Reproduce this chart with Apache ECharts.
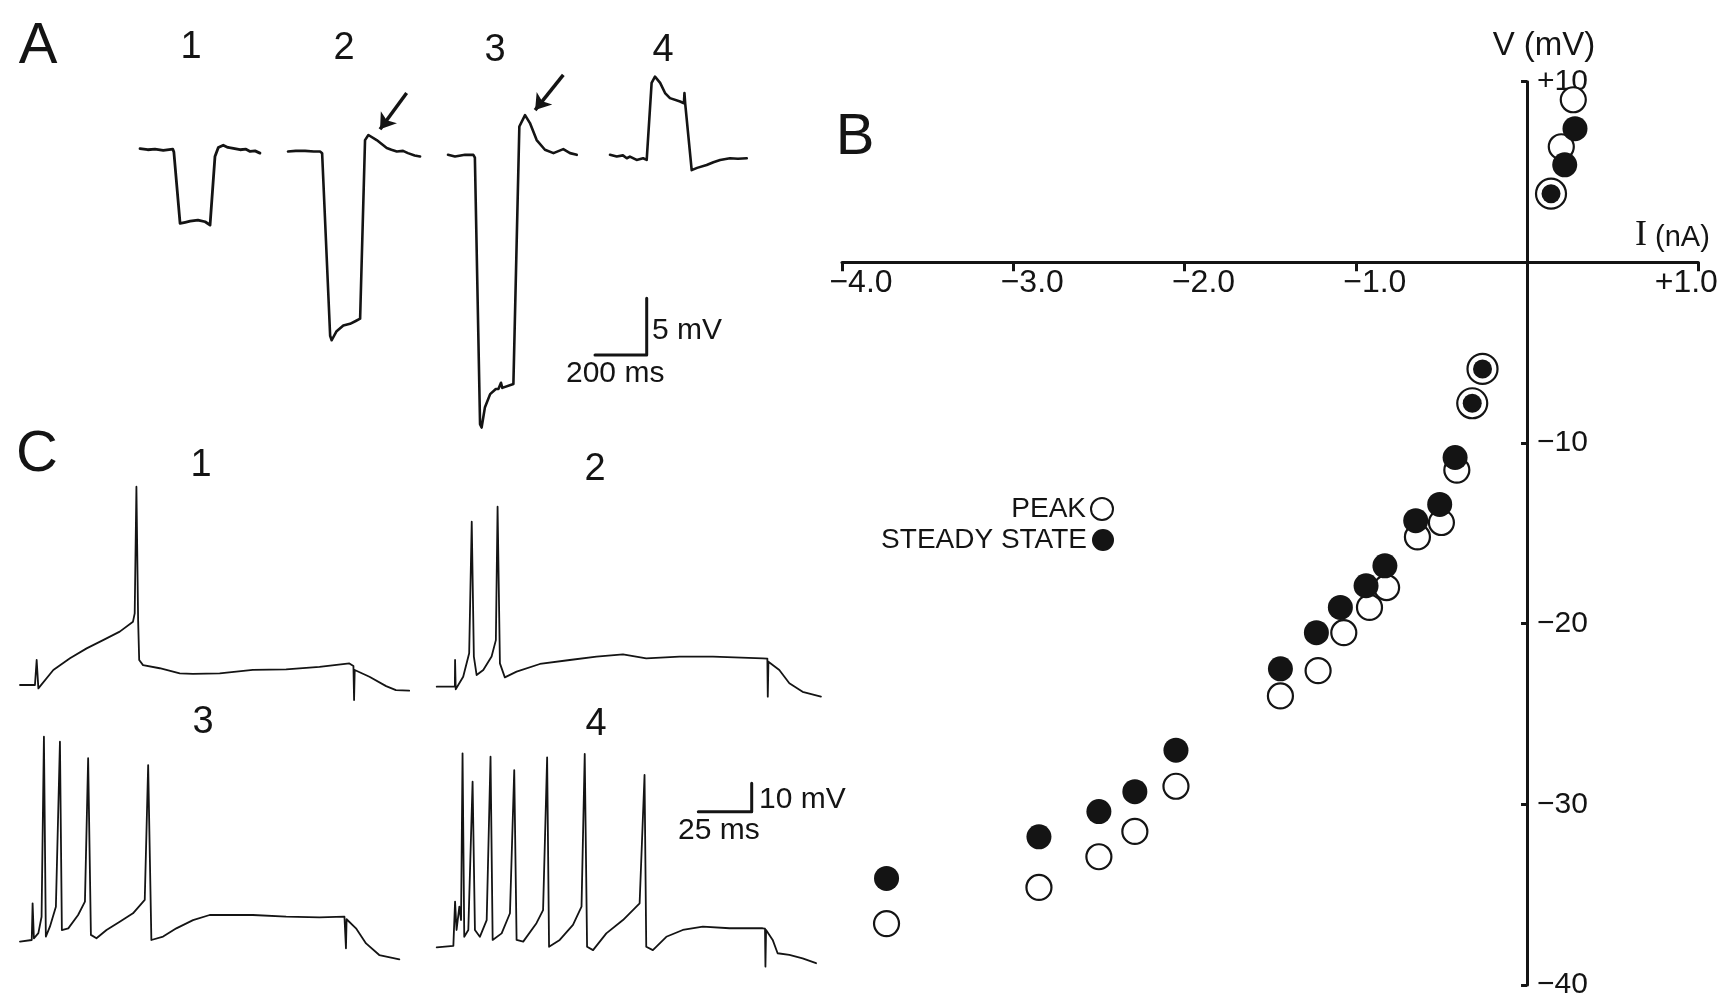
<!DOCTYPE html>
<html><head><meta charset="utf-8">
<script src="https://cdn.jsdelivr.net/npm/echarts@6/dist/echarts.min.js"></script>
<style>html,body{margin:0;padding:0;background:#fff}#c{width:1729px;height:994px}</style>
</head><body><div id="c"></div>
<script>
// ---------- Panel B: I-V relation (I in nA, V in mV) ----------
const steadyState = [[0.28,7.4],[0.22,5.4],[0.14,3.8],[-0.26,-5.9],[-0.32,-7.8],[-0.42,-10.8],[-0.51,-13.4],[-0.65,-14.3],[-0.83,-16.8],[-0.94,-17.9],[-1.09,-19.1],[-1.23,-20.5],[-1.44,-22.5],[-2.05,-27.0],[-2.29,-29.3],[-2.50,-30.4],[-2.85,-31.8],[-3.74,-34.1]];
const peak = [[0.27,9.0],[0.20,6.4],[0.14,3.8],[-0.26,-5.9],[-0.32,-7.8],[-0.41,-11.5],[-0.50,-14.4],[-0.64,-15.2],[-0.82,-18.0],[-0.92,-19.1],[-1.07,-20.5],[-1.22,-22.6],[-1.44,-24.0],[-2.05,-29.0],[-2.29,-31.5],[-2.50,-32.9],[-2.85,-34.6],[-3.74,-36.6]];
const currentTicks = [-4,-3,-2,-1,0,1];
const voltageTicks = [-40,-30,-20,-10,0,10];

// ---------- Panel A: responses to current steps ([ms, mV] relative to rest) ----------
const traceA1 = [[0,0.3],[30,0.2],[58,0.25],[90,0.15],[127,0.25],[131,0],[155,-6.3],[175,-6.2],[194,-6.1],[224,-6.0],[252,-6.15],[271,-6.45],[290,-0.4],[303,0.4],[322,0.6],[340,0.4],[356,0.35],[387,0.2],[410,0.25],[426,0.05],[445,0.1],[464,-0.1]];
const traceA2 = [[0,0.05],[30,0.1],[66,0.1],[100,0.05],[124,0.05],[132,-0.1],[163,-16.2],[169,-16.6],[188,-15.8],[214,-15.3],[240,-15.15],[262,-14.9],[279,-14.7],[286,-14.6],[298,1.05],[311,1.5],[343,1.05],[382,0.35],[400,0.2],[421,0.05],[445,0.1],[464,-0.1],[490,-0.3],[511,-0.4]];
const traceA3 = [[0,-0.25],[27,-0.4],[66,-0.25],[98,-0.25],[104,-0.5],[124,-24.0],[130,-24.3],[143,-22.5],[163,-21.35],[185,-20.9],[195,-20.9],[205,-20.35],[210,-20.8],[253,-20.45],[259,-20.3],[276,2.25],[298,3.25],[317,2.55],[343,1.05],[375,0.2],[408,-0.1],[446,0.25],[472,-0.1],[498,-0.25]];
const traceA4 = [[0,-0.25],[26,-0.4],[50,-0.3],[65,-0.55],[77,-0.4],[103,-0.7],[128,-0.55],[142,-0.7],[161,6.1],[174,6.65],[194,6.1],[213,5.2],[232,4.75],[271,4.45],[286,4.3],[288,5.2],[291,4.25],[316,-1.6],[337,-1.4],[374,-1.15],[400,-0.9],[426,-0.7],[464,-0.55],[495,-0.6],[529,-0.55]];
const arrowA2 = [[459,5.2],[356,2.0]];
const arrowA3 = [[446,6.8],[337,3.7]];
const scaleBarA = [[0,0],[200,0],[200,5]];   // 200 ms, 5 mV

// ---------- Panel C: firing during depolarizing steps ([ms, mV]) ----------
const traceC1 = [[0,0],[7,0],[7.8,8.8],[8.6,-1.2],[9.3,-0.6],[15.6,5.3],[23.4,9.4],[31.2,12.9],[38.9,15.8],[46.7,18.8],[52.9,22.3],[53.7,25.2],[54.5,69.8],[55.3,22.9],[55.8,8.8],[57.6,7.0],[65.4,5.9],[74.8,4.1],[81,3.9],[93.5,4.1],[109,5.3],[124.6,5.5],[140.2,6.4],[154.2,7.6],[156.1,6.7],[156.4,-5.3],[156.7,5.3],[163.6,2.9],[171.4,-0.4],[176,-1.8],[182.2,-2.0]];
const traceC2 = [[0,0],[8.5,0],[8.6,9.4],[8.9,-0.9],[12.4,3.5],[15.2,11.8],[16.4,58.1],[17.4,10.6],[18.7,4.1],[21.8,5.9],[25.7,10.6],[27.7,16.4],[28.5,63.4],[29.6,8.2],[31.9,3.3],[37.4,5.3],[48.3,8.0],[62.3,9.4],[74.8,10.6],[87.2,11.4],[98.1,10.0],[113.7,10.6],[129.3,10.6],[152.6,10.0],[154.8,9.9],[155,-3.5],[155.3,8.8],[160.4,5.9],[165.1,1.2],[171.3,-1.8],[179.9,-3.5]];
const traceC3 = [[0,0],[5.5,0.6],[5.9,13.5],[6.5,1.2],[8.6,3.0],[10.1,8.8],[11.2,72.2],[12.1,1.8],[14,5.3],[16.8,12.3],[18.7,70.4],[19.6,4.1],[22.6,4.7],[27.2,9.4],[30.4,14.1],[31.9,64.6],[33.2,2.4],[35.8,1.2],[40.5,4.1],[46.7,7.0],[52.9,10.0],[58.4,14.7],[60,62.2],[61.5,0.6],[67,1.8],[73.2,4.7],[81,7.6],[88.8,9.4],[109,9.4],[124.6,8.8],[140.2,8.6],[151.9,8.8],[152.4,8.7],[152.6,-2.3],[152.9,7.9],[157.3,4.7],[162,-0.6],[168.2,-4.7],[177.6,-6.2]];
const traceC4 = [[0,0],[7.8,0.5],[8.6,16.1],[9.3,6.1],[10.6,14.3],[11.4,9.6],[12.1,68.3],[12.9,3.7],[14.8,6.1],[16.8,58.3],[17.9,6.1],[20.2,3.7],[23.4,9.6],[25.2,67.1],[26.2,2.6],[30.4,4.9],[34.3,12.0],[36.3,62.4],[37.4,2.6],[40.5,2.0],[46.7,8.5],[49.8,13.1],[51.7,66.9],[52.6,0.2],[57.6,2.6],[63.8,7.9],[67.8,14.3],[69.3,68.1],[70.4,0.2],[73.2,-1.0],[79.4,4.9],[87.2,9.6],[95,15.5],[97.3,60.7],[98.1,0.2],[101.2,-1.0],[107.5,3.7],[115.2,6.1],[124.6,7.3],[137.1,6.7],[152.6,6.7],[153.7,6.6],[153.9,-6.8],[154.2,6.1],[157.3,2.6],[159.6,-2.1],[165.1,-2.7],[171.3,-3.9],[177.6,-5.6]];
const scaleBarC = [[0,0],[25,0],[25,10]];    // 25 ms, 10 mV

// ---------- layout ----------
const FONT = "'Liberation Sans', Arial, Helvetica, sans-serif";
const INK = '#141414';
const A_PX_PER_MS = 51.7/200, A_PX_PER_MV = 56.7/5;
const C_PX_PER_MS = 53.4/25,  C_PX_PER_MV = 28.4/10;
const A_T = [0,540], A_V = [-26,8];
const C_T = [0,185], C_V = [-10,75];

function g(left, top, width, height){
  return {left, top, width, height, containLabel:false, outerBoundsMode:'none'};
}
function traceGrid(left, zeroY, pxms, pxmv, T, V){
  return g(left, zeroY - V[1]*pxmv, (T[1]-T[0])*pxms, (V[1]-V[0])*pxmv);
}

const gridB = g(842, 81.7, 856.3, 903.3);
const grids = [
  gridB,                                                         // 0: B
  traceGrid(140, 152, A_PX_PER_MS, A_PX_PER_MV, A_T, A_V),       // 1: A1
  traceGrid(288, 152, A_PX_PER_MS, A_PX_PER_MV, A_T, A_V),       // 2: A2
  traceGrid(448, 152, A_PX_PER_MS, A_PX_PER_MV, A_T, A_V),       // 3: A3
  traceGrid(610, 152, A_PX_PER_MS, A_PX_PER_MV, A_T, A_V),       // 4: A4
  g(595, 298.3, 200*A_PX_PER_MS, 5*A_PX_PER_MV),                 // 5: A scale bar
  traceGrid(20, 685, C_PX_PER_MS, C_PX_PER_MV, C_T, C_V),        // 6: C1
  traceGrid(436.7, 686.7, C_PX_PER_MS, C_PX_PER_MV, C_T, C_V),   // 7: C2
  traceGrid(20, 941.7, C_PX_PER_MS, C_PX_PER_MV, C_T, C_V),      // 8: C3
  traceGrid(436.7, 947.3, C_PX_PER_MS, C_PX_PER_MV, C_T, C_V),   // 9: C4
  g(698.3, 783.3, 25*C_PX_PER_MS, 10*C_PX_PER_MV)                // 10: C scale bar
];
const ranges = [null,
  [A_T,A_V],[A_T,A_V],[A_T,A_V],[A_T,A_V],[[0,200],[0,5]],
  [C_T,C_V],[C_T,C_V],[C_T,C_V],[C_T,C_V],[[0,25],[0,10]]];

const iMin = currentTicks[0], iMax = currentTicks[currentTicks.length-1];
const vMin = voltageTicks[0], vMax = voltageTicks[voltageTicks.length-1];
// axes cross at the origin: shift them from the grid edges onto zero
const xAxisShift = -gridB.height * (0 - vMin) / (vMax - vMin);
const yAxisShift = -gridB.width * (0 - iMin) / (iMax - iMin);

const MINUS = '\u2212';
const xAxes = [{
  type:'value', gridIndex:0, min:iMin, max:iMax, interval:1, position:'bottom', offset:xAxisShift,
  axisLine:{onZero:false, lineStyle:{color:INK, width:3}},
  axisTick:{show:true, length:9, lineStyle:{color:INK, width:3}},
  axisLabel:{
    formatter:v=> v === 0 ? '' : (v > 0 ? '{p|+' + v.toFixed(1) + '}' : '{n|' + MINUS + Math.abs(v).toFixed(1) + '}'),
    fontSize:32, fontFamily:FONT, color:INK, margin:5, showMinLabel:true, showMaxLabel:true,
    rich:{n:{fontSize:32, fontFamily:FONT, color:INK, padding:[0,0,0,38]}, p:{fontSize:32, fontFamily:FONT, color:INK, padding:[0,24,0,0]}}
  },
  splitLine:{show:false}
}];
const yAxes = [{
  type:'value', gridIndex:0, min:vMin, max:vMax, interval:10, position:'left', offset:yAxisShift,
  axisLine:{onZero:false, lineStyle:{color:INK, width:3}},
  axisTick:{show:true, length:6, lineStyle:{color:INK, width:3}},
  axisLabel:{formatter:v=> v === 0 ? '' : (v > 0 ? '+' : MINUS) + Math.abs(v), inside:true,
    fontSize:30, fontFamily:FONT, color:INK, margin:10},
  splitLine:{show:false}
}];
for (let i=1;i<grids.length;i++){
  xAxes.push({type:'value', gridIndex:i, min:ranges[i][0][0], max:ranges[i][0][1], show:false, splitLine:{show:false}});
  yAxes.push({type:'value', gridIndex:i, min:ranges[i][1][0], max:ranges[i][1][1], show:false, splitLine:{show:false}});
}

function trace(idx, data, width){
  return {type:'line', xAxisIndex:idx, yAxisIndex:idx, data, symbol:'none', showSymbol:false,
    lineStyle:{color:INK, width, join:'round', cap:'round'}, clip:false, silent:true, animation:false};
}
function arrow(idx, coords){
  return {type:'lines', coordinateSystem:'cartesian2d', xAxisIndex:idx, yAxisIndex:idx,
    data:[{coords}], symbol:['none','arrow'], symbolSize:15,
    lineStyle:{color:INK, width:3.5, opacity:1, curveness:0}, silent:true, animation:false};
}
const same = (p) => peak.some(q=>q[0]===p[0]&&q[1]===p[1]) && steadyState.some(q=>q[0]===p[0]&&q[1]===p[1]);

const series = [
  {type:'scatter', name:'PEAK', xAxisIndex:0, yAxisIndex:0, data:peak, symbol:'circle',
   symbolSize:(v)=> same(v) ? 30 : 25, itemStyle:{color:'#fff', borderColor:INK, borderWidth:2.2, opacity:1}, z:3, animation:false},
  {type:'scatter', name:'STEADY STATE', xAxisIndex:0, yAxisIndex:0, data:steadyState, symbol:'circle',
   symbolSize:(v)=> same(v) ? 19 : 25, itemStyle:{color:INK, borderColor:INK, borderWidth:0, opacity:1}, z:4, animation:false},
  trace(1, traceA1, 2.8), trace(2, traceA2, 2.6), trace(3, traceA3, 2.6), trace(4, traceA4, 2.6),
  arrow(2, arrowA2), arrow(3, arrowA3),
  trace(5, scaleBarA, 3),
  trace(6, traceC1, 1.8), trace(7, traceC2, 1.8), trace(8, traceC3, 1.8), trace(9, traceC4, 1.8),
  trace(10, scaleBarC, 3)
];

function txt(text, x, y, size, align, family){
  return {type:'text', x, y, silent:true, style:{text, fontSize:size, fontFamily:family||FONT, fill:INK,
    textAlign:align||'center', align:align||'center', textVerticalAlign:'middle', verticalAlign:'middle'}};
}
const graphics = [
  txt('A', 38, 47, 58), txt('1', 191, 48, 38), txt('2', 344, 49, 38), txt('3', 495, 51, 38), txt('4', 663, 51, 38),
  txt('5 mV', 652, 331, 30, 'left'), txt('200 ms', 566, 374, 30, 'left'),
  txt('B', 855, 138, 58),
  txt('V (mV)', 1544, 46, 33),
  txt('I', 1641, 236, 36, 'center', "'Liberation Serif', serif"), txt('(nA)', 1655, 238, 29, 'left'),
  txt('C', 37, 455, 58), txt('1', 201, 466, 38), txt('2', 595, 470, 38), txt('3', 203, 723, 38), txt('4', 596, 725, 38),
  txt('10 mV', 759, 800, 30, 'left'), txt('25 ms', 678, 831, 30, 'left')
];

const legendCommon = {orient:'horizontal', align:'right', right:615, itemWidth:22, itemHeight:22, itemGap:0, padding:0,
  selectedMode:false, textStyle:{fontSize:28, fontFamily:FONT, color:INK}};
const chart = echarts.init(document.getElementById('c'), null, {renderer:'canvas'});
chart.setOption({
  backgroundColor:'#fff',
  animation:false,
  grid:grids, xAxis:xAxes, yAxis:yAxes, series,
  legend:[Object.assign({data:['PEAK'], top:495}, legendCommon), Object.assign({data:['STEADY STATE'], top:526}, legendCommon)],
  graphic:graphics
});
</script></body></html>
